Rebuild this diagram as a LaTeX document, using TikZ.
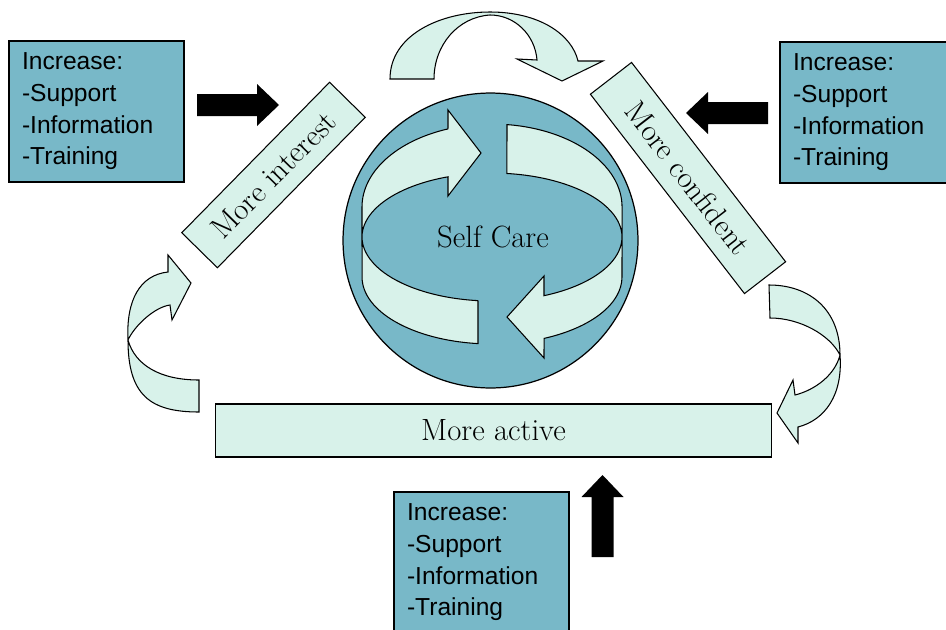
\documentclass[tikz,border=0pt]{standalone}
\usepackage{fontspec}
\newfontfamily\boxfont{Liberation Sans}
\definecolor{calmteal}{RGB}{120,184,200}
\definecolor{palemint}{RGB}{216,242,234}
\tikzset{
    boost/.style={rectangle, draw=black, line width=0.7pt, fill=calmteal, minimum width=3.5cm, minimum height=2.82cm, text width=2.98cm, inner xsep=0.26cm, align=left, font=\boxfont\fontsize{14}{18}\selectfont},
    stage/.style={rectangle, draw=black, line width=0.6pt, fill=palemint, inner sep=0pt, font=\fontsize{17.5}{20}\selectfont},
    swirl/.style={draw=black, line width=0.6pt, fill=palemint},
    push/.pic={\fill[black] (0,-11) -- (60,-11) -- (60,-21) -- (82,0) -- (60,21) -- (60,11) -- (0,11) -- cycle;}
}
\begin{document}
\begin{tikzpicture}[x=0.02cm, y=-0.02cm]
        \useasboundingbox (0,0) rectangle (946,629);
        \clip (0,0) rectangle (946,629);

        \node [boost] (lefthelp) at (96.5,111.5) {Increase:\\-Support\\-Information\\-Training};
        \node [boost] (righthelp) at (867.5,112.5) {Increase:\\-Support\\-Information\\-Training};
        \node [boost] (bottomhelp) at (481.5,562.5) {Increase:\\-Support\\-Information\\-Training};

        \pic at (197,105) {push};
        \pic [rotate=180] at (768,113) {push};
        \pic [rotate=90] at (602.5,557) {push};

        \node [stage, rotate=45.5, minimum width=4.22cm, minimum height=1cm] (interest) at (273.5,175) {More interest};
        \node [stage, rotate=-52.3, minimum width=5.04cm, minimum height=1.04cm] (confident) at (688,178) {More confident};
        \node [stage, minimum width=11.14cm, minimum height=1.06cm] (active) at (493.5,430.5) {More active};

        \node [circle, draw=black, line width=0.7pt, fill=calmteal, minimum size=5.9cm, inner sep=0pt] (core) at (490.5,240.5) {};

        \draw [swirl] (478,300.6) -- (478,343.6) arc [start angle=96.2, end angle=180, x radius=130, y radius=67]
            -- (362,207) arc [start angle=180, end angle=250.2, x radius=130, y radius=83]
            -- (448,110) -- (481,153) -- (448,196) -- (448,176.8)
            arc [start angle=250.2, end angle=96.2, x radius=130, y radius=64] -- cycle;
        \draw [swirl] (507,124.6) arc [start angle=276.6, end angle=360, x radius=130, y radius=83]
            -- (622,277) arc [start angle=0, end angle=66.4, x radius=130, y radius=67]
            -- (544,358) -- (507,317) -- (544,276) -- (544,295.7)
            arc [start angle=66.4, end angle=-83.4, x radius=130, y radius=64] -- cycle;
        \node [font=\fontsize{17.5}{20}\selectfont] (selfcare) at (493,237) {Self Care};

        \draw [swirl] (390,79) -- (434,79) .. controls (434,45) and (458,17) .. (490,15)
            .. controls (515,15) and (535,35) .. (537,60) -- (517,59) -- (562,81) -- (603,61) -- (578,61)
            .. controls (572,35) and (540,12) .. (490,12) .. controls (440,12) and (390,35) .. (390,79) -- cycle;
        \draw [swirl] (199,380) -- (199,412) .. controls (150,412) and (128,395) .. (128,340)
            .. controls (126,300) and (140,275) .. (168,272) -- (168,255) -- (191,283) -- (172,320) -- (170,305)
            .. controls (155,307) and (135,325) .. (128,340) .. controls (135,365) and (160,380) .. (199,380) -- cycle;
        \draw [swirl] (769,285) -- (770,318) .. controls (800,318) and (830,335) .. (840,355)
            .. controls (835,375) and (815,390) .. (795,395) -- (793,380) -- (777,413) -- (798,443) -- (798,427)
            .. controls (825,420) and (843,395) .. (840,355) .. controls (840,310) and (810,285) .. (769,285) -- cycle;
\end{tikzpicture}
\end{document}
